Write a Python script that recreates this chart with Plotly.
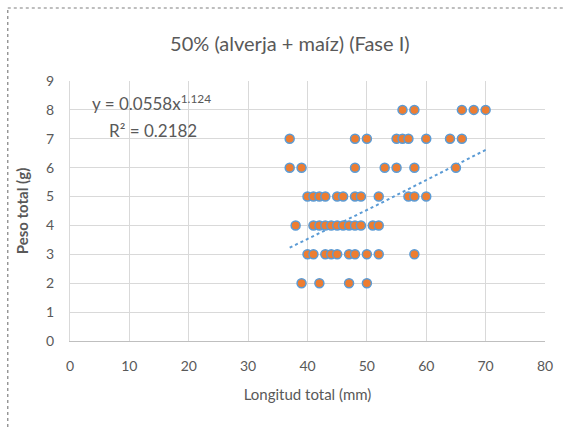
import plotly.graph_objects as go
import numpy as np

# Data (Longitud total mm, Peso total g)
x_vals = [56, 58, 66, 68, 70,
          37, 48, 50, 55, 56, 57, 60, 64, 66,
          37, 39, 48, 53, 55, 58, 65,
          40, 41, 42, 43, 45, 46, 48, 49, 52, 57, 58, 60,
          38, 41, 42, 43, 44, 45, 46, 47, 48, 49, 51, 52,
          40, 41, 43, 44, 45, 47, 48, 50, 52, 58,
          39, 42, 47, 50]
y_vals = [8, 8, 8, 8, 8,
          7, 7, 7, 7, 7, 7, 7, 7, 7,
          6, 6, 6, 6, 6, 6, 6,
          5, 5, 5, 5, 5, 5, 5, 5, 5, 5, 5, 5,
          4, 4, 4, 4, 4, 4, 4, 4, 4, 4, 4, 4,
          3, 3, 3, 3, 3, 3, 3, 3, 3, 3,
          2, 2, 2, 2]

# Power trendline coefficients shown on the chart
coef_a = 0.0558
coef_b = 1.124
r2 = 0.2182

x_ticks = [0, 10, 20, 30, 40, 50, 60, 70, 80]
y_ticks = [0, 1, 2, 3, 4, 5, 6, 7, 8, 9]

tx = np.linspace(min(x_vals), max(x_vals), 60)
ty = coef_a * tx ** coef_b

fig = go.Figure()
fig.add_trace(go.Scatter(
    x=tx, y=ty, mode="lines",
    line=dict(color="#5B9BD5", width=2, dash="dot"),
    hoverinfo="skip", showlegend=False))
fig.add_trace(go.Scatter(
    x=x_vals, y=y_vals, mode="markers",
    marker=dict(color="#ED7D31", size=9, line=dict(color="#5B9BD5", width=1.5)),
    showlegend=False))

font_family = "Lato, 'Open Sans', sans-serif"
grey = "#595959"

fig.update_layout(
    width=565, height=427,
    margin=dict(l=70, r=14, t=81, b=86),
    paper_bgcolor="white", plot_bgcolor="white",
    font=dict(family=font_family, color=grey, size=13),
    title=dict(text="50% (alverja + maíz) (Fase I)", x=0.513, xanchor="center",
               y=1 - 44 / 427, yanchor="middle",
               font=dict(size=20, color=grey, family=font_family)),
    xaxis=dict(range=[0, 80], tickvals=x_ticks, showgrid=True, gridcolor="#D9D9D9",
               gridwidth=1, zeroline=False, showline=True, linecolor="#BFBFBF",
               ticks="", ticklabelstandoff=12, tickfont=dict(size=14, color=grey),
               title=dict(text="Longitud total (mm)", standoff=16,
                          font=dict(size=15, color=grey))),
    yaxis=dict(range=[0, 9], tickvals=y_ticks, showgrid=True, gridcolor="#D9D9D9",
               gridwidth=1, zeroline=False, showline=True, linecolor="#D9D9D9",
               ticks="", ticklabelstandoff=12, tickfont=dict(size=14, color=grey),
               title=dict(text="<b>Peso total (g)</b>", standoff=13,
                          font=dict(size=15, color=grey))),
)

# Equation annotation
fig.add_annotation(x=(153 - 70) / 481, y=8.25, xref="paper", yref="y",
                   xanchor="center", yanchor="middle",
                   text=f"y = {coef_a}x<sup>{coef_b}</sup>", showarrow=False,
                   font=dict(size=17, color=grey, family=font_family))
fig.add_annotation(x=(154 - 70) / 481, y=7.3, xref="paper", yref="y",
                   xanchor="center", yanchor="middle",
                   text=f"R² = {r2}", showarrow=False,
                   font=dict(size=17, color=grey, family=font_family))

# dotted chart-area border (left and top)
bx = (7 - 70) / 481
by = (341 - 8) / 260
fig.add_shape(type="line", xref="paper", yref="paper", x0=bx, x1=bx, y0=-0.4, y1=by,
              line=dict(color="#7F7F7F", width=1.2, dash="dot"))
fig.add_shape(type="line", xref="paper", yref="paper", x0=bx, x1=1.2, y0=by, y1=by,
              line=dict(color="#7F7F7F", width=1.2, dash="dot"))

fig.write_html("out.html")
